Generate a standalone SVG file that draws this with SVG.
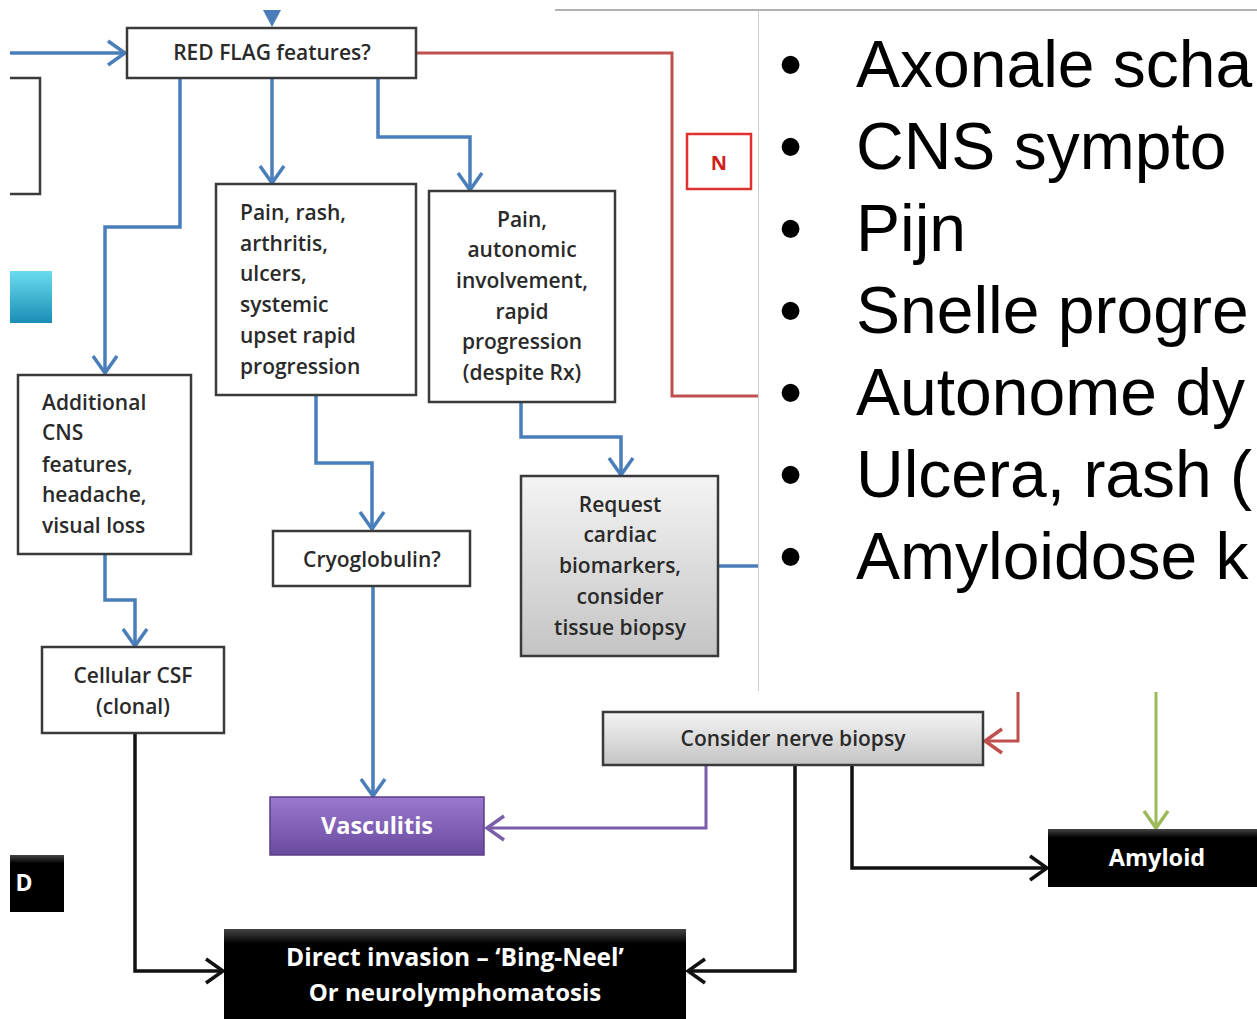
<svg xmlns="http://www.w3.org/2000/svg" width="1257" height="1019" viewBox="0 0 1257 1019">
<style>
.box{fill:#fff;stroke:#3a3a3a;stroke-width:2.5}
.t{font-family:"Open Sans","Lato",sans-serif;font-size:21px;font-weight:600;fill:#2a2a2a}
.tc{text-anchor:middle}
.w{font-family:"Open Sans","Lato",sans-serif;font-weight:700;fill:#fff;text-anchor:middle}
.b{fill:none;stroke:#4a7ebb;stroke-width:3.5}
.k{fill:none;stroke:#111;stroke-width:3.5}
.big{font-family:"Liberation Sans",Arial,sans-serif;font-size:66px;fill:#000}
</style>
<defs>
<clipPath id="clip"><rect x="10" y="10" width="1247" height="1009"/></clipPath>
<linearGradient id="gGray" x1="0" y1="0" x2="0" y2="1"><stop offset="0" stop-color="#f4f4f4"/><stop offset="1" stop-color="#c4c4c4"/></linearGradient>
<linearGradient id="gPurple" x1="0" y1="0" x2="0" y2="1"><stop offset="0" stop-color="#9a7ad0"/><stop offset="1" stop-color="#6a4a9e"/></linearGradient>
<linearGradient id="gCyan" x1="0" y1="0" x2="0" y2="1"><stop offset="0" stop-color="#6adcf0"/><stop offset="1" stop-color="#1a8db5"/></linearGradient>
<linearGradient id="gBlack" x1="0" y1="0" x2="0" y2="1"><stop offset="0" stop-color="#444"/><stop offset="0.15" stop-color="#000"/><stop offset="1" stop-color="#000"/></linearGradient>
<marker id="aB" viewBox="-2 -14 22 28" refX="17" refY="0" markerWidth="22" markerHeight="28" markerUnits="userSpaceOnUse" orient="auto"><path d="M0,-12 L17,0 L0,12" fill="none" stroke="#4a7ebb" stroke-width="3.5"/></marker>
<marker id="aR" viewBox="-2 -14 22 28" refX="17" refY="0" markerWidth="22" markerHeight="28" markerUnits="userSpaceOnUse" orient="auto"><path d="M0,-12 L17,0 L0,12" fill="none" stroke="#c0504d" stroke-width="3.5"/></marker>
<marker id="aP" viewBox="-2 -14 22 28" refX="17" refY="0" markerWidth="22" markerHeight="28" markerUnits="userSpaceOnUse" orient="auto"><path d="M0,-12 L17,0 L0,12" fill="none" stroke="#7a5ea8" stroke-width="3.5"/></marker>
<marker id="aG" viewBox="-2 -14 22 28" refX="17" refY="0" markerWidth="22" markerHeight="28" markerUnits="userSpaceOnUse" orient="auto"><path d="M0,-12 L17,0 L0,12" fill="none" stroke="#9bbb59" stroke-width="3.5"/></marker>
<marker id="aK" viewBox="-2 -14 22 28" refX="17" refY="0" markerWidth="22" markerHeight="28" markerUnits="userSpaceOnUse" orient="auto"><path d="M0,-12 L17,0 L0,12" fill="none" stroke="#111" stroke-width="3.5"/></marker>
</defs>
<rect width="1257" height="1019" fill="#fff"/>
<g clip-path="url(#clip)">
<g id="connectors">
<polygon points="263,10 281,10 272,27" fill="#4a7ebb"/>
<path class="b" d="M10,53 H125" marker-end="url(#aB)"/>
<path class="b" d="M180,78 V227 H105 V373" marker-end="url(#aB)"/>
<path class="b" d="M272,78 V183" marker-end="url(#aB)"/>
<path class="b" d="M378,78 V137 H470 V190" marker-end="url(#aB)"/>
<path fill="none" stroke="#c0504d" stroke-width="3" d="M416,53 H672 V396 H760"/>
<path class="b" d="M316,395 V463 H372 V529" marker-end="url(#aB)"/>
<path class="b" d="M521,402 V437 H621 V475" marker-end="url(#aB)"/>
<path class="b" d="M718,566 H760"/>
<path class="b" d="M105,554 V600 H135 V646" marker-end="url(#aB)"/>
<path class="b" d="M373,586 V796" marker-end="url(#aB)"/>
<path fill="none" stroke="#c0504d" stroke-width="3" d="M1018,692 V741 H985" marker-end="url(#aR)"/>
<path fill="none" stroke="#9bbb59" stroke-width="3" d="M1156,692 V828" marker-end="url(#aG)"/>
<path class="k" d="M852,765 V868 H1047" marker-end="url(#aK)"/>
<path class="k" d="M795,765 V971 H688" marker-end="url(#aK)"/>
<path fill="none" stroke="#7a5ea8" stroke-width="3" d="M706,765 V828 H487" marker-end="url(#aP)"/>
<path class="k" d="M135,733 V971 H223" marker-end="url(#aK)"/>
</g>
<g id="left-box"><rect class="box" x="-20" y="78" width="60" height="116"/></g>
<g id="cyan-box"><rect x="0" y="271" width="52" height="52" fill="url(#gCyan)"/></g>
<g id="redflag"><rect class="box" x="127" y="28" width="289" height="50"/><text class="t tc" x="272" y="60" font-size="17">RED FLAG features?</text></g>
<g id="n-label"><rect x="687" y="134" width="64" height="55" fill="#fff" stroke="#e03030" stroke-width="2.5"/><text x="719" y="170" font-family="Open Sans,sans-serif" font-weight="700" font-size="20" fill="#d02020" text-anchor="middle">N</text></g>
<g id="pain-rash"><rect class="box" x="216" y="184" width="200" height="211"/>
<text class="t" x="240" y="220">Pain, rash,</text><text class="t" x="240" y="251">arthritis,</text><text class="t" x="240" y="281">ulcers,</text><text class="t" x="240" y="312">systemic</text><text class="t" x="240" y="343">upset rapid</text><text class="t" x="240" y="374">progression</text></g>
<g id="pain-auto"><rect class="box" x="429" y="191" width="186" height="211"/>
<text class="t tc" x="522" y="227">Pain,</text><text class="t tc" x="522" y="257">autonomic</text><text class="t tc" x="522" y="288">involvement,</text><text class="t tc" x="522" y="319">rapid</text><text class="t tc" x="522" y="349">progression</text><text class="t tc" x="522" y="380">(despite Rx)</text></g>
<g id="additional"><rect class="box" x="18" y="375" width="173" height="179"/>
<text class="t" x="42" y="410">Additional</text><text class="t" x="42" y="440">CNS</text><text class="t" x="42" y="472">features,</text><text class="t" x="42" y="502">headache,</text><text class="t" x="42" y="533">visual loss</text></g>
<g id="request"><rect x="521" y="476" width="197" height="180" fill="url(#gGray)" stroke="#3a3a3a" stroke-width="2.5"/>
<text class="t tc" x="620" y="512">Request</text><text class="t tc" x="620" y="542">cardiac</text><text class="t tc" x="620" y="573">biomarkers,</text><text class="t tc" x="620" y="604">consider</text><text class="t tc" x="620" y="635">tissue biopsy</text></g>
<g id="cryo"><rect class="box" x="273" y="531" width="197" height="55"/><text class="t tc" x="372" y="567">Cryoglobulin?</text></g>
<g id="cellular"><rect class="box" x="42" y="647" width="182" height="86"/><text class="t tc" x="133" y="683">Cellular CSF</text><text class="t tc" x="133" y="714">(clonal)</text></g>
<g id="vasculitis"><rect x="270" y="797" width="214" height="58" fill="url(#gPurple)" stroke="#5a3e88" stroke-width="1.5"/><text class="w" x="377" y="834" font-size="23.5">Vasculitis</text></g>
<g id="consider"><rect x="603" y="712" width="380" height="53" fill="url(#gGray)" stroke="#3a3a3a" stroke-width="2.5"/><text class="t tc" x="793" y="746" font-size="16.5">Consider nerve biopsy</text></g>
<g id="amyloid"><rect x="1048" y="829" width="230" height="58" fill="url(#gBlack)"/><text class="w" x="1157" y="866" font-size="23.5">Amyloid</text></g>
<g id="ad-box"><rect x="-40" y="855" width="104" height="57" fill="url(#gBlack)"/><text class="w" x="24" y="891" font-size="23">D</text></g>
<g id="direct"><rect x="224" y="929" width="462" height="100" fill="url(#gBlack)"/><text class="w" x="455" y="966" font-size="24.5">Direct invasion – ‘Bing-Neel’</text><text class="w" x="455" y="1001" font-size="24">Or neurolymphomatosis</text></g>
</g>
<g id="panel">
<line x1="555" y1="10" x2="1257" y2="10" stroke="#999" stroke-width="1.5"/>
<rect x="758" y="11" width="500" height="680" fill="#fff"/>
<line x1="758.5" y1="11" x2="758.5" y2="691" stroke="#ccc" stroke-width="1"/>
<text class="big" x="779" y="87">•</text><text class="big" x="856" y="87">Axonale scha</text>
<text class="big" x="779" y="169">•</text><text class="big" x="856" y="169">CNS sympto</text>
<text class="big" x="779" y="251">•</text><text class="big" x="856" y="251">Pijn</text>
<text class="big" x="779" y="333">•</text><text class="big" x="856" y="333">Snelle progre</text>
<text class="big" x="779" y="415">•</text><text class="big" x="856" y="415">Autonome dy</text>
<text class="big" x="779" y="497">•</text><text class="big" x="856" y="497">Ulcera, rash (</text>
<text class="big" x="779" y="579">•</text><text class="big" x="856" y="579">Amyloidose k</text>
</g>
</svg>
